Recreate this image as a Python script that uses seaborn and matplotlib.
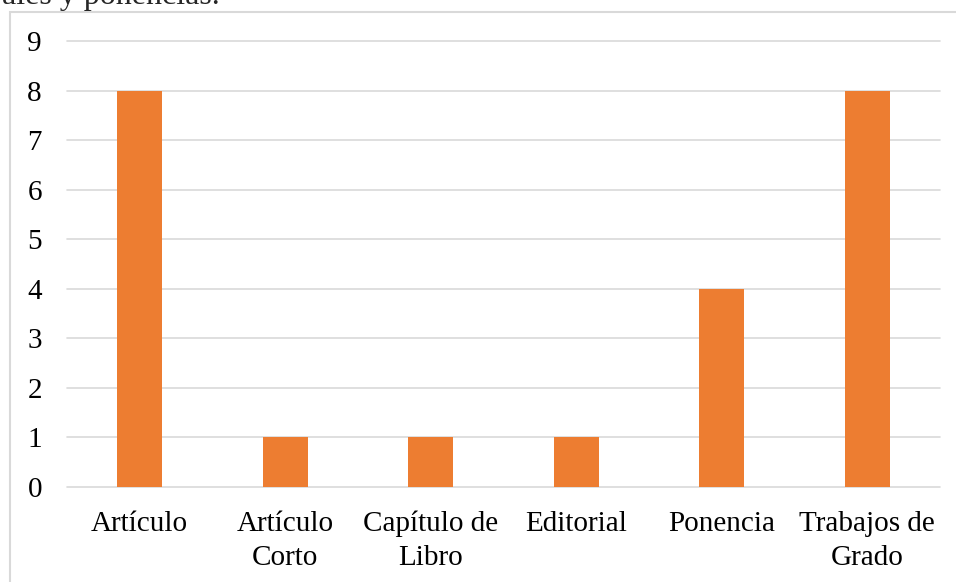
import pandas as pd
import matplotlib.pyplot as plt
import seaborn as sns
from matplotlib.patches import Rectangle

categorias = ["Artículo", "Artículo\nCorto", "Capítulo de\nLibro", "Editorial",
              "Ponencia", "Trabajos de\nGrado"]
cantidad = [8, 1, 1, 1, 4, 8]
yticks = list(range(0, 10))

df = pd.DataFrame({"tipo": categorias, "n": cantidad})

sns.set_style("white")
plt.rcParams["font.family"] = ["Liberation Serif", "DejaVu Serif"]

fig = plt.figure(figsize=(9.56, 5.82), dpi=100)
ax = fig.add_axes([67/956, 1 - 487/582, (940 - 67)/956, (487 - 41)/582])

sns.barplot(data=df, x="tipo", y="n", color="#ED7D31", width=0.31,
            saturation=1, linewidth=0, ax=ax, zorder=3)

ax.set_ylim(0, 9)
ax.set_yticks(yticks)
ax.set_xlabel("")
ax.set_ylabel("")
ax.grid(axis="y", color="#d9d9d9", linewidth=1.2, zorder=0)
for gl in ax.get_ygridlines():
    gl.set_clip_on(False)
ax.set_axisbelow(True)
for s in ax.spines.values():
    s.set_visible(False)
ax.tick_params(axis="both", length=0, labelsize=21, colors="black")
ax.tick_params(axis="y", pad=18)
ax.tick_params(axis="x", pad=17)
for lbl in ax.get_xticklabels():
    lbl.set_linespacing(1.4)

# marco gris del gráfico
fig.add_artist(Rectangle((10/956, -0.1), 1.2, 1 - 12/582 + 0.1,
                         transform=fig.transFigure, fill=False,
                         edgecolor="#d9d9d9", linewidth=1.5))

# texto del documento cortado arriba
fig.text(0.002, 1 - 4/582, "ales y ponencias.", fontsize=23, va="baseline",
         ha="left")

fig.savefig("out.png", dpi=100)
